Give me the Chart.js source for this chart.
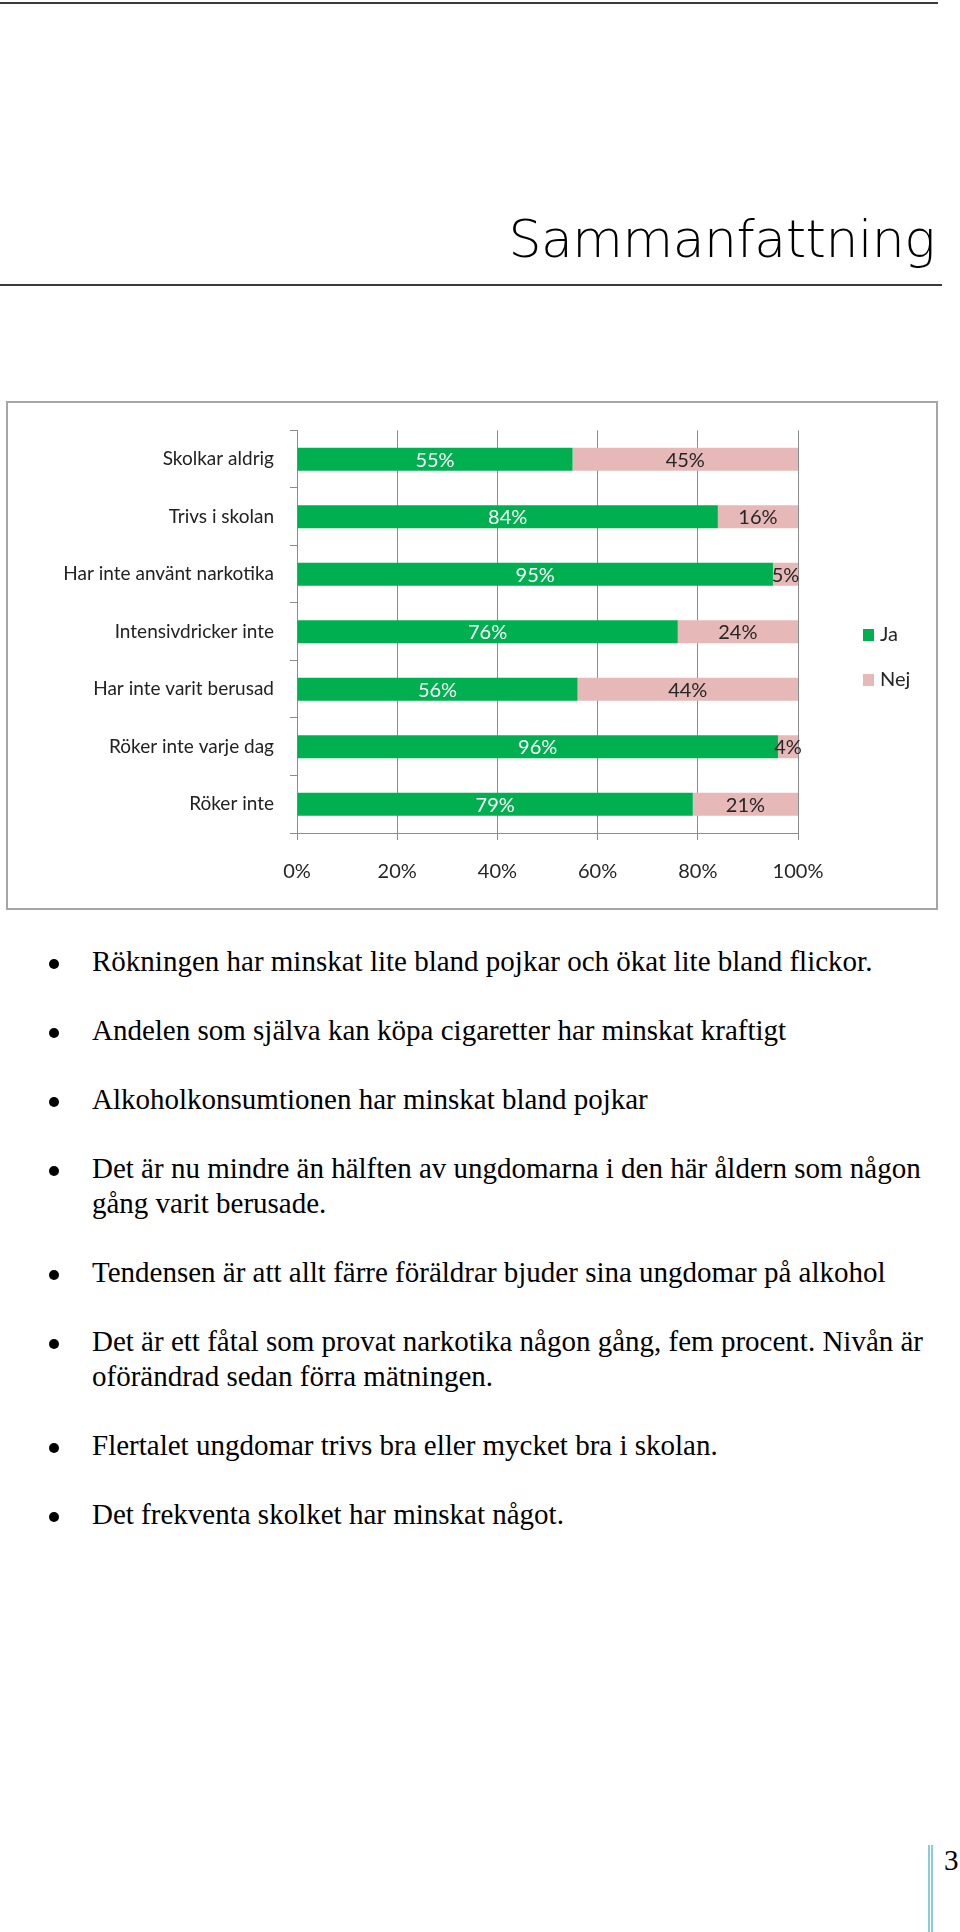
<!DOCTYPE html>
<html lang="sv">
<head>
<meta charset="utf-8">
<script src="https://cdn.jsdelivr.net/npm/chart.js@4.4.1/dist/chart.umd.min.js"></script>
<style>
  body { margin: 0; width: 960px; height: 1932px; position: relative; background: #fff; overflow: hidden; }
  .rule { position: absolute; left: 0; height: 2px; background: #3a3a3a; }
  h1 { position: absolute; right: 25px; top: 213px; margin: 0; font: 200 52px/1 "DejaVu Sans"; letter-spacing: -0.5px; color: #000; }
  #box { position: absolute; left: 6px; top: 401px; width: 932px; height: 509px; box-sizing: border-box; border: 2px solid #a6a6a6; }
  #box div { position: relative; width: 928px; height: 505px; }
  .list { position: absolute; left: 0; top: 944px; font: 29px/35px "Liberation Serif", "Times New Roman", serif; color: #000; }
  .item { position: relative; padding-left: 92px; margin-bottom: 34px; white-space: nowrap; }
  .item::before { content: ""; position: absolute; left: 49px; top: 15px; width: 10px; height: 10px; border-radius: 50%; background: #000; }
  .pbar { position: absolute; left: 928px; top: 1845px; width: 1px; height: 87px; border-left: 2px solid #8ccbdb; border-right: 2px solid #8ccbdb; }
  .pnum { position: absolute; left: 944px; top: 1843px; font: 29px/34px "Liberation Serif", serif; }
</style>
</head>
<body>
<div class="rule" style="top:2px;width:938px"></div>
<h1>Sammanfattning</h1>
<div class="rule" style="top:284px;width:942px"></div>

<div id="box"><div><canvas id="myChart"></canvas></div></div>

<div class="list">
  <div class="item">Rökningen har minskat lite bland pojkar och ökat lite bland flickor.</div>
  <div class="item">Andelen som själva kan köpa cigaretter har minskat kraftigt</div>
  <div class="item">Alkoholkonsumtionen har minskat bland pojkar</div>
  <div class="item">Det är nu mindre än hälften av ungdomarna i den här åldern som någon<br>gång varit berusade.</div>
  <div class="item">Tendensen är att allt färre föräldrar bjuder sina ungdomar på alkohol</div>
  <div class="item">Det är ett fåtal som provat narkotika någon gång, fem procent. Nivån är<br>oförändrad sedan förra mätningen.</div>
  <div class="item">Flertalet ungdomar trivs bra eller mycket bra i skolan.</div>
  <div class="item">Det frekventa skolket har minskat något.</div>
</div>

<div class="pbar"></div>
<div class="pnum">3</div>

<script>
const categories = ['Skolkar aldrig', 'Trivs i skolan', 'Har inte använt narkotika', 'Intensivdricker inte',
  'Har inte varit berusad', 'Röker inte varje dag', 'Röker inte'];
const ja = [55, 84, 95, 76, 56, 96, 79];
const nej = [45, 16, 5, 24, 44, 4, 21];
const xTicks = [0, 20, 40, 60, 80, 100];

Chart.defaults.font.family = 'Lato';
Chart.defaults.font.size = 20;

// percentage text in the middle of every segment
const barLabels = {
  id: 'barLabels',
  afterDatasetsDraw(chart) {
    const c = chart.ctx;
    c.save();
    c.font = '20px Lato';
    c.textAlign = 'center';
    c.textBaseline = 'middle';
    chart.data.datasets.forEach((ds, i) => {
      c.fillStyle = ds.labelColor;
      chart.getDatasetMeta(i).data.forEach((bar, j) => {
        const p = bar.getProps(['x', 'base', 'y'], true);
        c.fillText(ds.data[j] + '%', (p.x + p.base) / 2, p.y + 1);
      });
    });
    c.restore();
  }
};

// legend to the right, like Excel
const sideLegend = {
  id: 'sideLegend',
  afterDraw(chart) {
    const c = chart.ctx, a = chart.chartArea;
    c.save();
    c.font = '20px Lato';
    c.textBaseline = 'middle';
    chart.data.datasets.forEach((ds, i) => {
      const y = chart.height / 2 + (i - 0.5) * 45 + 2;
      c.fillStyle = ds.backgroundColor;
      c.fillRect(a.right + 65, y - 6, 11, 12);
      c.fillStyle = '#262626';
      c.fillText(ds.label, a.right + 82, y);
    });
    c.restore();
  }
};

const ctx = document.getElementById('myChart');

new Chart(ctx, {
  type: 'bar',
  data: {
    labels: categories,
    datasets: [
      { label: 'Ja', data: ja, backgroundColor: '#00b050', labelColor: '#ffffff' },
      { label: 'Nej', data: nej, backgroundColor: '#e6b9b8', labelColor: '#262626' }
    ]
  },
  options: {
    indexAxis: 'y',
    responsive: true,
    maintainAspectRatio: false,
    animation: false,
    layout: { padding: { top: 25, right: 138, left: 0, bottom: 0 } },
    datasets: { bar: { barPercentage: 0.4, categoryPercentage: 1 } },
    plugins: { legend: { display: false }, tooltip: { enabled: false } },
    scales: {
      x: {
        stacked: true, min: 0, max: 100,
        afterBuildTicks: s => { s.ticks = xTicks.map(v => ({ value: v })); },
        afterFit: s => { s.height = 75; },
        ticks: { callback: v => v + '%', color: '#262626', padding: 20 },
        grid: { color: '#8c8c8c', tickLength: 7 },
        border: { color: '#8c8c8c' }
      },
      y: {
        stacked: true,
        afterFit: s => { s.width = 289; },
        ticks: { color: '#222222', padding: 16, font: { size: 19 } },
        grid: { offset: true, drawOnChartArea: false, tickLength: 7, color: '#8c8c8c' },
        border: { color: '#8c8c8c' }
      }
    }
  },
  plugins: [barLabels, sideLegend]
});
</script>
</body>
</html>
